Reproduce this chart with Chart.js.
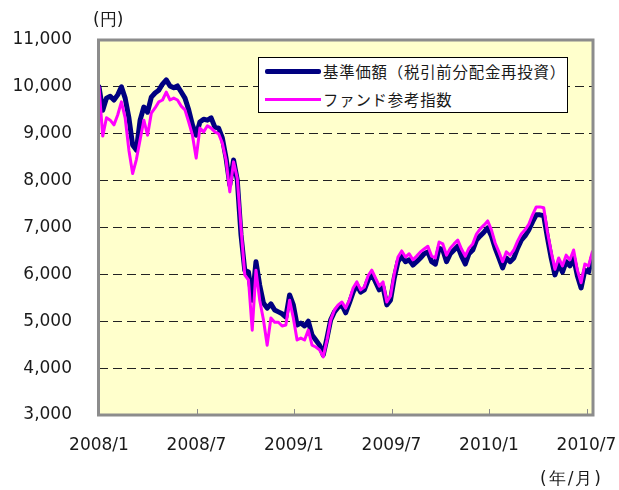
<!DOCTYPE html>
<html lang="ja">
<head>
<meta charset="utf-8">
<script src="https://cdn.jsdelivr.net/npm/chart.js@4.4.1/dist/chart.umd.min.js"></script>
<style>
  body { margin: 0; background: #fff; }
  #wrap { position: relative; width: 619px; height: 490px; font-family: "DejaVu Sans", sans-serif; color: #1a1a1a; }
  #chart { position: absolute; left: 0; top: 0; }
  .unit { position: absolute; font-size: 17px; line-height: 20px; white-space: nowrap; }
  #legend { position: absolute; left: 258px; top: 57px; width: 308px; height: 54px; background: #fff; border: 1px solid #000; }
  .row { position: absolute; left: 6px; height: 20px; white-space: nowrap; }
  .swatch { position: absolute; left: 0; width: 56px; }
  .label { position: absolute; left: 58px; top: 0; font-family: "Noto Sans CJK JP", sans-serif; font-size: 15.4px; line-height: 20px; letter-spacing: 0.8px; }
</style>
</head>
<body>
<div id="wrap">
  <canvas id="chart" width="619" height="490"></canvas>
  <div class="unit" style="left:93px; top:9px;">(円)</div>
  <div class="unit" style="left:540px; top:468px; letter-spacing:2px;">(年/月)</div>
  <div id="legend">
    <div class="row" style="top:3px;">
      <div class="swatch" style="top:8px; height:5px; background:#000080; border-radius:2px;"></div>
      <div class="label">基準価額（税引前分配金再投資）</div>
    </div>
    <div class="row" style="top:31px;">
      <div class="swatch" style="top:9px; height:3px; background:#ff00ff;"></div>
      <div class="label">ファンド参考指数</div>
    </div>
  </div>
</div>
<script>
// weekly closes from the first week of January 2008
const navValues = [
  10000, 9500, 9760, 9800, 9720, 9830, 10000, 9760, 9340, 8760,
  8650, 9290, 9570, 9460, 9780, 9870, 9930, 10060, 10150, 10020,
  9980, 10020, 9890, 9760, 9510, 9190, 8970, 9250, 9310, 9290,
  9340, 9140, 9120, 8910, 8480, 7910, 8440, 8010, 6840, 6090,
  6050, 5450, 6270, 5770, 5390, 5280, 5370, 5240, 5200, 5160,
  5090, 5560, 5350, 4920, 4960, 4900, 5000, 4710, 4600, 4490,
  4280, 4640, 5030, 5200, 5300, 5350, 5180, 5390, 5620, 5770,
  5620, 5670, 5880, 6010, 5840, 5670, 5730, 5350, 5450, 5920,
  6270, 6390, 6270, 6310, 6200, 6270, 6350, 6440, 6480, 6270,
  6220, 6560, 6520, 6270, 6440, 6520, 6600, 6390, 6220, 6440,
  6520, 6730, 6820, 6900, 6990, 6820, 6560, 6350, 6140, 6350,
  6270, 6350, 6560, 6730, 6820, 6950, 7120, 7270, 7270, 7250,
  6780, 6350, 5990, 6220, 6050, 6270, 6180, 6350, 5970, 5710,
  6090, 6050, 6370
];
const indexValues = [
  10000, 8950, 9340, 9290, 9190, 9400, 9680, 9340, 8650, 8150,
  8450, 8870, 9290, 8970, 9440, 9550, 9680, 9720, 9890, 9720,
  9760, 9720, 9590, 9510, 9250, 8970, 8480, 9120, 9040, 9170,
  9120, 9040, 9000, 8800, 8440, 7760, 8400, 8050, 6990, 5990,
  5880, 4810, 6090, 5450, 5030, 4490, 5070, 4980, 4980, 4900,
  4920, 5450, 5070, 4600, 4640, 4600, 4810, 4490, 4450, 4390,
  4240, 4600, 5030, 5240, 5350, 5410, 5280, 5450, 5710, 5840,
  5670, 5730, 5970, 6090, 5920, 5750, 5840, 5410, 5540, 6010,
  6370, 6500, 6370, 6440, 6310, 6390, 6480, 6540, 6600, 6390,
  6350, 6690, 6650, 6410, 6560, 6650, 6730, 6540, 6390, 6560,
  6650, 6860, 6970, 7050, 7140, 6950, 6670, 6480, 6270, 6480,
  6410, 6520, 6710, 6860, 6950, 7070, 7270, 7440, 7440, 7420,
  6900, 6480, 6110, 6350, 6180, 6410, 6310, 6520, 6090, 5820,
  6220, 6180, 6480
];
const tickLabels = ['2008/1', '2008/7', '2009/1', '2009/7', '2010/1', '2010/7'];
const yMin = 3000;
const yMax = 11000;

const MONTHS_PER_WEEK = 7 / 30.437;
const toPoints = vals => vals.map((v, i) => ({ x: i * MONTHS_PER_WEEK, y: v }));

// yellow plot background, grey frame and short inner ticks on the date axis
const frame = {
  id: 'frame',
  beforeDraw(chart) {
    const { ctx, chartArea: a } = chart;
    ctx.save();
    ctx.fillStyle = '#ffffcc';
    ctx.fillRect(a.left, a.top, a.right - a.left, a.bottom - a.top);
    ctx.restore();
  },
  afterDraw(chart) {
    const { ctx, chartArea: a, scales } = chart;
    ctx.save();
    ctx.strokeStyle = '#8c8c8c';
    ctx.lineWidth = 1;
    scales.x.ticks.forEach(t => {
      const px = Math.round(scales.x.getPixelForValue(t.value)) + 0.5;
      ctx.beginPath();
      ctx.moveTo(px, a.bottom);
      ctx.lineTo(px, a.bottom - 6);
      ctx.stroke();
    });
    ctx.lineWidth = 3;
    ctx.strokeRect(a.left - 0.5, a.top, a.right - a.left + 0.5, a.bottom - a.top);
    ctx.restore();
  }
};

new Chart(document.getElementById('chart'), {
  type: 'line',
  data: {
    datasets: [
      {
        label: '基準価額（税引前分配金再投資）',
        data: toPoints(navValues),
        borderColor: '#000080',
        borderWidth: 5,
        order: 1
      },
      {
        label: 'ファンド参考指数',
        data: toPoints(indexValues),
        borderColor: '#ff00ff',
        borderWidth: 3,
        order: 0
      }
    ]
  },
  options: {
    responsive: false,
    animation: false,
    events: [],
    layout: { padding: { top: 40, right: 26, left: 0, bottom: 0 } },
    elements: {
      point: { radius: 0 },
      line: { tension: 0, borderJoinStyle: 'round', borderCapStyle: 'round' }
    },
    plugins: {
      legend: { display: false },
      tooltip: { enabled: false }
    },
    scales: {
      x: {
        type: 'linear',
        min: 0,
        max: 30.4,
        afterFit(scale) {
          scale.height = 75;
          // the last date label may hang past the plot edge
          scale.paddingLeft = 0;
          scale.paddingRight = 0;
        },
        afterBuildTicks(scale) {
          scale.ticks = tickLabels.map((_, i) => ({ value: i * 6 }));
        },
        ticks: {
          padding: 12,
          maxRotation: 0,
          color: '#1a1a1a',
          font: { family: 'DejaVu Sans', size: 17 },
          callback: v => tickLabels[v / 6]
        },
        grid: { display: false },
        border: { display: false }
      },
      y: {
        min: yMin,
        max: yMax,
        afterFit(scale) { scale.width = 99; },
        ticks: {
          stepSize: 1000,
          padding: 27,
          color: '#1a1a1a',
          font: { family: 'DejaVu Sans', size: 17 },
          callback: v => v.toLocaleString('en-US')
        },
        grid: {
          drawTicks: false,
          color: ctx => (ctx.tick && (ctx.tick.value === yMin || ctx.tick.value === yMax)) ? 'rgba(0,0,0,0)' : '#222',
          lineWidth: 1
        },
        border: { display: false, dash: [9, 5] }
      }
    }
  },
  plugins: [frame]
});
</script>
</body>
</html>
